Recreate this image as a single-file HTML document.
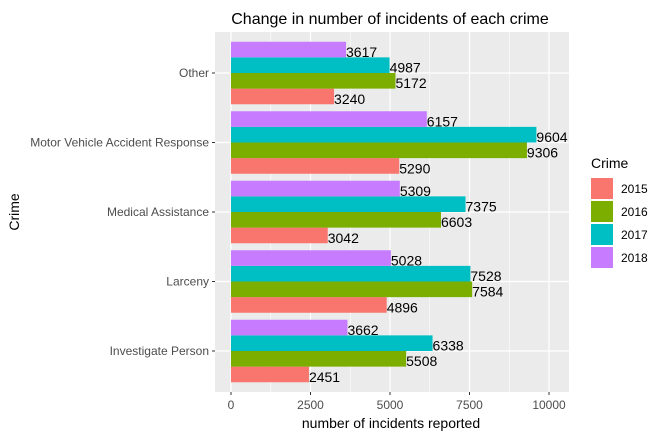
<!DOCTYPE html>
<html><head><meta charset="utf-8"><style>
body{margin:0;background:#fff;font-family:"Liberation Sans",Arial,sans-serif}
</style></head><body>
<svg id="c" width="664" height="438" xmlns="http://www.w3.org/2000/svg" font-family="Liberation Sans, Arial, sans-serif">
<text x="390" y="24" text-anchor="middle" font-size="16" fill="#000">Change in number of incidents of each crime</text>
<rect x="215" y="32" width="354" height="360" fill="#ebebeb"/>
<g id="grid"></g><g id="bars"></g><g id="axes"></g>
<text x="391" y="428" text-anchor="middle" font-size="14" fill="#000">number of incidents reported</text>
<text transform="translate(19,212) rotate(-90)" text-anchor="middle" font-size="14" fill="#000">Crime</text>
<g id="legend"><text x="591" y="168" font-size="14" fill="#000">Crime</text></g>
</svg>
<script>
const categories=["Investigate Person","Larceny","Medical Assistance","Motor Vehicle Accident Response","Other"];
const years=["2015","2016","2017","2018"];
const colors=["#F8766D","#7CAE00","#00BFC4","#C77CFF"];
const v2015=[2451,4896,3042,5290,3240];
const v2016=[5508,7584,6603,9306,5172];
const v2017=[6338,7528,7375,9604,4987];
const v2018=[3662,5028,5309,6157,3617];
const series=[v2015,v2016,v2017,v2018];
const xTicks=[0,2500,5000,7500,10000];
const NS="http://www.w3.org/2000/svg";
const x=v=>231+v*0.0318;
const yc=i=>351-i*69.5;
const band=62.5, bh=band/4;
function mk(t,a,p){const e=document.createElementNS(NS,t);for(const k in a)e.setAttribute(k,a[k]);p.appendChild(e);return e;}
const grid=document.getElementById('grid'),bars=document.getElementById('bars'),axes=document.getElementById('axes'),leg=document.getElementById('legend');
for(let k=0;k<xTicks.length-1;k++){const m=(xTicks[k]+xTicks[k+1])/2;
const g=mk('line',{x1:x(m),x2:x(m),y1:32,y2:392,stroke:'#fff','stroke-width':0.6},grid);

}
xTicks.forEach(t=>{
const g=mk('line',{x1:x(t),x2:x(t),y1:32,y2:392,stroke:'#fff','stroke-width':1.2},grid);


const tk=mk('line',{x1:x(t),x2:x(t),y1:392,y2:395,stroke:'#333','stroke-width':1},axes);


const l=mk('text',{x:x(t),y:409,'text-anchor':'middle','font-size':12,fill:'#4d4d4d'},axes);l.textContent=t;

});
categories.forEach((c,i)=>{
const g=mk('line',{x1:215,x2:569,y1:yc(i),y2:yc(i),stroke:'#fff','stroke-width':1.2},grid);


const tk=mk('line',{x1:212,x2:215,y1:yc(i),y2:yc(i),stroke:'#333','stroke-width':1},axes);


const l=mk('text',{x:209,y:yc(i)+4,'text-anchor':'end','font-size':12,fill:'#4d4d4d'},axes);l.textContent=c;


series.forEach((s,j)=>{
const top=yc(i)+band/2-(j+1)*bh;
const r=mk('rect',{x:x(0),y:top,width:x(s[i])-x(0),height:bh,fill:colors[j]},bars);


const t=mk('text',{x:x(s[i]),y:top+bh-0.5,'font-size':14,fill:'#000'},bars);t.textContent=s[i];


});});
years.forEach((yr,j)=>{
const r=mk('rect',{x:591,y:178+j*23,width:22,height:21,fill:colors[j]},leg);


const t=mk('text',{x:621,y:193+j*23,'font-size':12,fill:'#000'},leg);t.textContent=yr;

});
</script>
</body></html>
